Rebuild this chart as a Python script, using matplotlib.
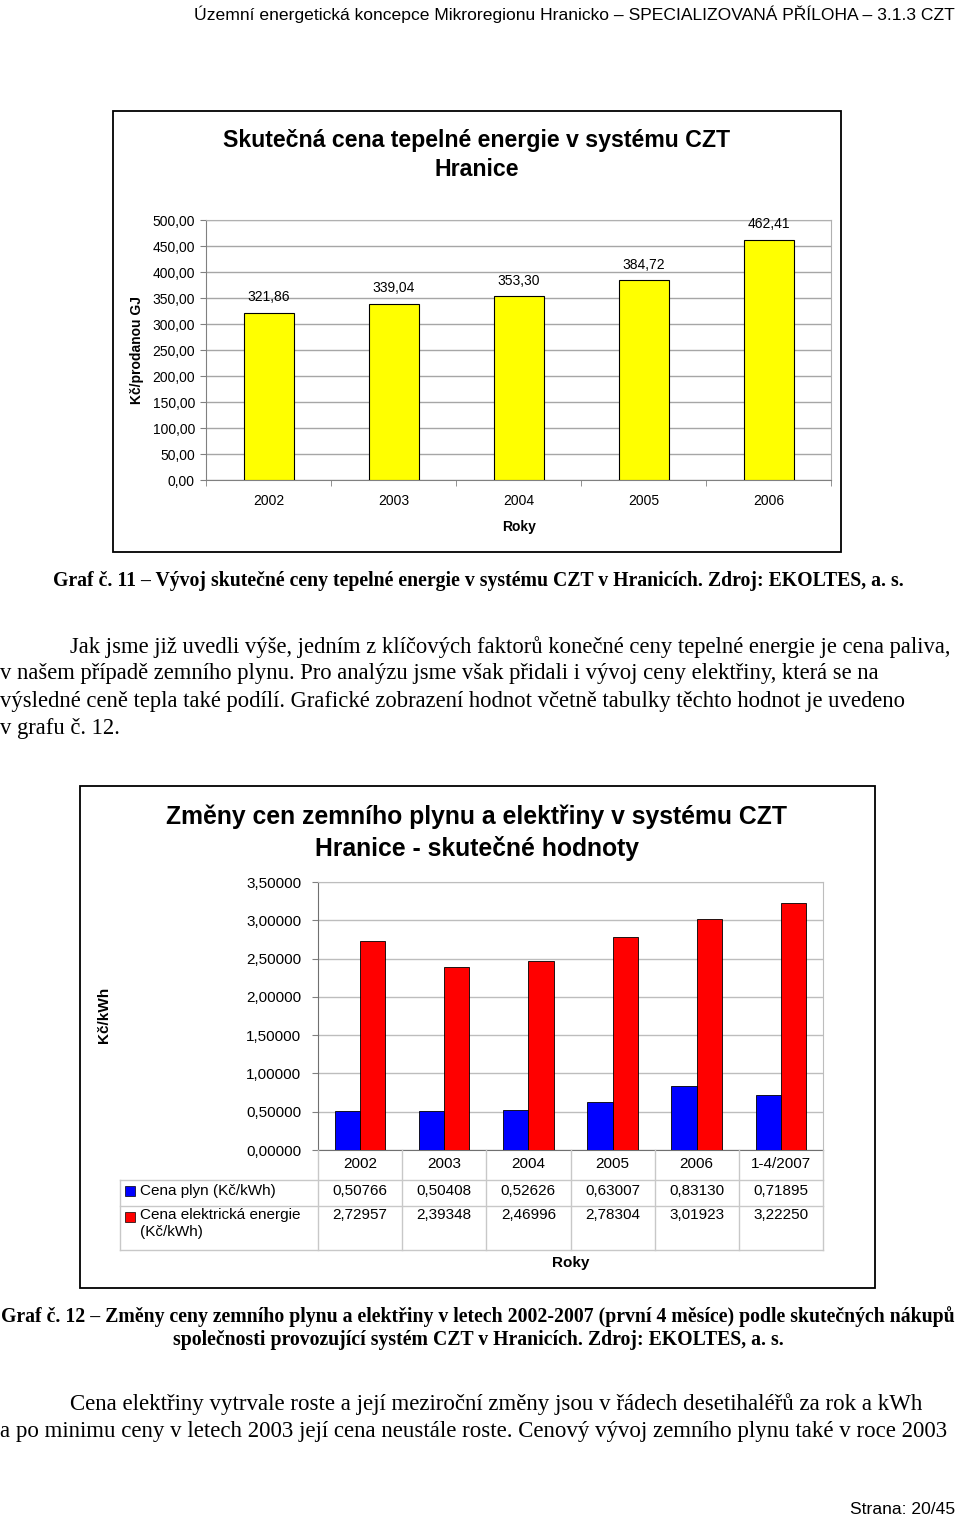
import matplotlib
matplotlib.use('Agg')
import matplotlib.pyplot as plt
from matplotlib.patches import Rectangle
import numpy as np

# graf 11 - skutecna cena tepla
roky1 = ['2002', '2003', '2004', '2005', '2006']
cena_tepla = [321.86, 339.04, 353.30, 384.72, 462.41]

# graf 12 - plyn a elektrina
roky2 = ['2002', '2003', '2004', '2005', '2006', '1-4/2007']
cena_plyn = [0.50766, 0.50408, 0.52626, 0.63007, 0.83130, 0.71895]
cena_elektrina = [2.72957, 2.39348, 2.46996, 2.78304, 3.01923, 3.22250]
serie = ['Cena plyn (Kč/kWh)', 'Cena elektrická energie\n(Kč/kWh)']

W, H = 960, 1521


def fx(x):
    return x / W


def fy(y):
    return 1 - y / H


def cz(v, n):
    # desetinna carka
    return f'{v:.{n}f}'.replace('.', ',')


sans = 'Liberation Sans'
serif = 'Liberation Serif'
plt.rcParams['font.family'] = sans

fig = plt.figure(figsize=(W / 100, H / 100), dpi=100)

# hlavicka a paticka stranky
fig.text(fx(955), fy(14), 'Územní energetická koncepce Mikroregionu Hranicko – SPECIALIZOVANÁ PŘÍLOHA – 3.1.3 CZT',
         fontsize=12.6, ha='right', va='center')
fig.text(fx(955), fy(1509), 'Strana: 20/45', fontsize=12.6, ha='right', va='center')


def frame(x0, y0, x1, y1):
    fig.patches.append(Rectangle((fx(x0), fy(y1)), (x1 - x0) / W, (y1 - y0) / H,
                                 transform=fig.transFigure, fill=False, edgecolor='black', lw=1.3))


# ---------------- graf 11 ----------------
frame(113, 111, 841, 552)
fig.text(fx(477), fy(155), 'Skutečná cena tepelné energie v systému CZT\nHranice', fontsize=16.7,
         fontweight='bold', ha='center', va='center', linespacing=1.3)

ax1 = fig.add_axes([fx(206), fy(480), (831 - 206) / W, (480 - 220) / H])
x1 = np.arange(len(roky1))
ax1.bar(x1, cena_tepla, width=0.4, color='#ffff00', edgecolor='black', linewidth=0.8, zorder=3)
for i, v in enumerate(cena_tepla):
    ax1.annotate(cz(v, 2), (i, v), xytext=(0, 6), textcoords='offset points',
                 ha='center', va='bottom', fontsize=10)
ax1.set_xlim(-0.5, len(roky1) - 0.5)
ax1.set_ylim(0, 500)
yt1 = np.arange(0, 501, 50)
ax1.set_yticks(yt1)
ax1.set_yticklabels([cz(v, 2) for v in yt1])
ax1.set_xticks(x1)
ax1.set_xticklabels(roky1)
ax1.set_xticks(np.arange(-0.5, len(roky1), 1), minor=True)
ax1.tick_params(axis='x', which='major', length=0, pad=10, labelsize=10)
ax1.tick_params(axis='x', which='minor', length=4, color='#808080')
ax1.tick_params(axis='y', length=4, labelsize=10, pad=4, color='#808080')
ax1.grid(axis='y', color='#a6a6a6', lw=1, zorder=0)
for s in ['top', 'right']:
    ax1.spines[s].set_color('#b0b0b0')
for s in ['left', 'bottom']:
    ax1.spines[s].set_color('#808080')
fig.text(fx(137), fy(350), 'Kč/prodanou GJ', rotation=90, fontsize=10, fontweight='bold', ha='center', va='center')
fig.text(fx(519), fy(527), 'Roky', fontsize=10, fontweight='bold', ha='center', va='center')

fig.text(fx(478), fy(581), 'Graf č. 11 – Vývoj skutečné ceny tepelné energie v systému CZT v Hranicích. Zdroj: EKOLTES, a. s.',
         family=serif, fontsize=14.2, fontweight='bold', ha='center', va='center')

odstavec1 = ['Jak jsme již uvedli výše, jedním z klíčových faktorů konečné ceny tepelné energie je cena paliva,',
             'v našem případě zemního plynu. Pro analýzu jsme však přidali i vývoj ceny elektřiny, která se na',
             'výsledné ceně tepla také podílí. Grafické zobrazení hodnot včetně tabulky těchto hodnot je uvedeno',
             'v grafu č. 12.']
for k, line in enumerate(odstavec1):
    fig.text(fx(70 if k == 0 else 0), fy(647 + 27 * k), line, family=serif, fontsize=16.3, ha='left', va='center')

# ---------------- graf 12 ----------------
frame(80, 786, 875, 1288)
fig.text(fx(477), fy(833), 'Změny cen zemního plynu a elektřiny v systému CZT\nHranice - skutečné hodnoty',
         fontsize=17.8, fontweight='bold', ha='center', va='center', linespacing=1.33)

ax2 = fig.add_axes([fx(318), fy(1150), (823 - 318) / W, (1150 - 882) / H])
x2 = np.arange(len(roky2))
ax2.bar(x2 - 0.15, cena_plyn, width=0.3, color='#0000ff', edgecolor='black', linewidth=0.6, zorder=3)
ax2.bar(x2 + 0.15, cena_elektrina, width=0.3, color='#ff0000', edgecolor='black', linewidth=0.6, zorder=3)
ax2.set_xlim(-0.5, len(roky2) - 0.5)
ax2.set_ylim(0, 3.5)
yt2 = np.arange(0, 3.51, 0.5)
ax2.set_yticks(yt2)
ax2.set_yticklabels([cz(v, 5) for v in yt2])
ax2.set_xticks([])
ax2.tick_params(axis='y', length=4, labelsize=11, pad=8, color='#808080')
ax2.grid(axis='y', color='#bdbdbd', lw=1, zorder=0)
for s in ['top', 'right']:
    ax2.spines[s].set_color('#bdbdbd')
for s in ['left', 'bottom']:
    ax2.spines[s].set_color('#707070')
fig.text(fx(104), fy(1015), 'Kč/kWh', rotation=90, fontsize=11, fontweight='bold', ha='center', va='center')
fig.text(fx(571), fy(1263), 'Roky', fontsize=11, fontweight='bold', ha='center', va='center')

# datova tabulka pod grafem
cat_px = (823 - 318) / len(roky2)
xl = -0.5 - (318 - 120) / cat_px
axt = fig.add_axes([fx(120), fy(1250), (823 - 120) / W, (1250 - 1150) / H])
axt.set_xlim(xl, len(roky2) - 0.5)
axt.set_ylim(100, 0)
axt.axis('off')
gc = '#c8c8c8'
for xb in np.arange(-0.5, len(roky2), 1):
    axt.plot([xb, xb], [0, 100], color=gc, lw=1, clip_on=False)
axt.plot([xl, xl], [30, 100], color=gc, lw=1, clip_on=False)
for yb in [30, 56, 100]:
    axt.plot([xl, len(roky2) - 0.5], [yb, yb], color=gc, lw=1, clip_on=False)
for i, r in enumerate(roky2):
    axt.text(i, 14, r, fontsize=11, ha='center', va='center')
    axt.text(i, 41, cz(cena_plyn[i], 5), fontsize=11, ha='center', va='center')
    axt.text(i, 58, cz(cena_elektrina[i], 5), fontsize=11, ha='center', va='top')
for k, (nazev, barva) in enumerate(zip(serie, ['#0000ff', '#ff0000'])):
    yy = 41 if k == 0 else 67
    axt.plot(xl + 10 / cat_px, yy, marker='s', markersize=6.5, color=barva, markeredgecolor='black',
             markeredgewidth=0.5, clip_on=False)
    axt.text(xl + 20 / cat_px, yy if k == 0 else 58, nazev, fontsize=11, ha='left',
             va='center' if k == 0 else 'top', linespacing=1.3)

fig.text(fx(478), fy(1317), 'Graf č. 12 – Změny ceny zemního plynu a elektřiny v letech 2002-2007 (první 4 měsíce) podle skutečných nákupů',
         family=serif, fontsize=14.2, fontweight='bold', ha='center', va='center')
fig.text(fx(478), fy(1340), 'společnosti provozující systém CZT v Hranicích. Zdroj: EKOLTES, a. s.',
         family=serif, fontsize=14.2, fontweight='bold', ha='center', va='center')

odstavec2 = ['Cena elektřiny vytrvale roste a její meziroční změny jsou v řádech desetihaléřů za rok a kWh',
             'a po minimu ceny v letech 2003 její cena neustále roste. Cenový vývoj zemního plynu také v roce 2003']
for k, line in enumerate(odstavec2):
    fig.text(fx(70 if k == 0 else 0), fy(1404 + 27 * k), line, family=serif, fontsize=16.5, ha='left', va='center')

fig.savefig('out.png', dpi=100)
